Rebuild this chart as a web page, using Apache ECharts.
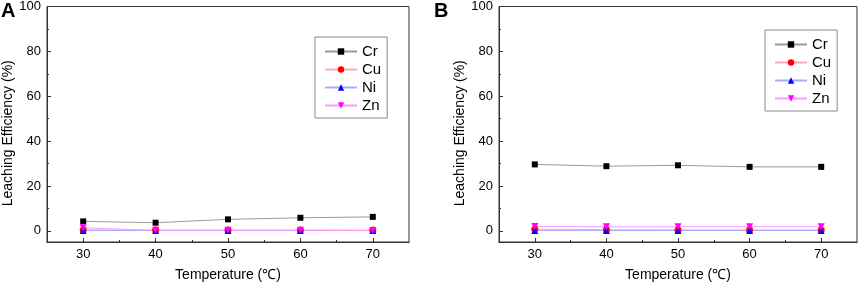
<!DOCTYPE html>
<html>
<head>
<meta charset="utf-8">
<script src="https://cdn.jsdelivr.net/npm/echarts@6/dist/echarts.min.js"></script>
<style>
  html, body { margin: 0; padding: 0; background: #fff; }
  #chart { width: 858px; height: 287px; }
</style>
</head>
<body>
<div id="chart"></div>
<script>
// temperatures (°C)
const temps = [30, 40, 50, 60, 70];
// panel A
const crA = [4.2, 3.6, 5.1, 5.8, 6.2];
const cuA = [0.4, 0.3, 0.3, 0.3, 0.3];
const niA = [0.1, 0.1, 0.1, 0.1, 0.1];
const znA = [1.3, 0.2, 0.2, 0.2, 0.1];
// panel B
const crB = [29.6, 28.8, 29.2, 28.5, 28.5];
const cuB = [0.7, 0.5, 0.4, 0.4, 0.4];
const niB = [0.1, 0.1, 0.1, 0.1, 0.1];
const znB = [1.9, 1.8, 1.8, 1.8, 1.8];
// ticks
const xMajor = [30, 40, 50, 60, 70];
const xMinor = [35, 45, 55, 65];
const yMajor = [0, 20, 40, 60, 80, 100];
const yMinor = [10, 30, 50, 70, 90];
const metals = ['Cr', 'Cu', 'Ni', 'Zn'];

const FONT = 'Liberation Sans, Arial, sans-serif';
const AXIS_COLOR = '#333';

const chart = echarts.init(document.getElementById('chart'));

function pairs(vals) {
  return temps.map((t, i) => [t, vals[i]]);
}

function xAxes(gridIndex) {
  const base = {
    type: 'value', gridIndex: gridIndex, min: 25, max: 75, position: 'bottom',
    splitLine: { show: false },
    axisLine: { show: true, onZero: false, lineStyle: { color: AXIS_COLOR, width: 1 } },
  };
  return [
    Object.assign({}, base, {
      name: 'Temperature (℃)',
      nameLocation: 'middle',
      nameGap: 26,
      nameTextStyle: { fontFamily: FONT, fontSize: 14, color: '#000' },
      axisTick: { inside: true, length: 4, customValues: xMajor, lineStyle: { color: AXIS_COLOR } },
      axisLabel: { customValues: xMajor, margin: 6, fontFamily: FONT, fontSize: 13, color: '#000' },
    }),
    Object.assign({}, base, {
      axisTick: { inside: true, length: 2, customValues: xMinor, lineStyle: { color: AXIS_COLOR } },
      axisLabel: { show: false },
    }),
  ];
}

function yAxes(gridIndex) {
  const base = {
    type: 'value', gridIndex: gridIndex, min: -5, max: 100, position: 'left',
    splitLine: { show: false },
    axisLine: { show: true, onZero: false, lineStyle: { color: AXIS_COLOR, width: 1 } },
  };
  return [
    Object.assign({}, base, {
      name: 'Leaching Efficiency (%)',
      nameLocation: 'middle',
      nameGap: 32,
      nameTextStyle: { fontFamily: FONT, fontSize: 14, color: '#000', padding: [0, 18, 0, 0] },
      axisTick: { inside: true, length: 4, customValues: yMajor, lineStyle: { color: AXIS_COLOR } },
      axisLabel: { customValues: yMajor, margin: 6, fontFamily: FONT, fontSize: 13, color: '#000' },
    }),
    Object.assign({}, base, {
      axisTick: { inside: true, length: 2, customValues: yMinor, lineStyle: { color: AXIS_COLOR } },
      axisLabel: { show: false },
    }),
  ];
}

const styles = {
  Cr: { line: '#999999', mark: '#000000', symbol: 'rect', size: 6 },
  Cu: { line: '#ffaaaa', mark: '#ff0000', symbol: 'circle', size: 7 },
  Ni: { line: '#aaaaff', mark: '#0000ff', symbol: 'triangle', size: 7 },
  Zn: { line: '#ff99ff', mark: '#ff00ff', symbol: 'path://M0,0 L10,0 L5,9 Z', size: 7 },
};

function makeSeries(axisIndex, data) {
  return metals.map((m, i) => ({
    name: m,
    type: 'line',
    xAxisIndex: axisIndex,
    yAxisIndex: axisIndex,
    data: pairs(data[i]),
    symbol: styles[m].symbol,
    symbolSize: styles[m].size,
    showAllSymbol: true,
    lineStyle: { color: styles[m].line, width: 1 },
    itemStyle: { color: styles[m].mark },
    emphasis: { disabled: true },
    animation: false,
  }));
}

function legend(left, top) {
  return {
    data: metals,
    orient: 'vertical',
    left: left, top: top,
    itemWidth: 32, itemHeight: 8, itemGap: 3,
    padding: [7, 6, 5, 9],
    backgroundColor: '#fff',
    borderColor: '#888', borderWidth: 1, borderRadius: 0,
    textStyle: { fontFamily: FONT, fontSize: 15, color: '#000' },
  };
}

const option = {
  backgroundColor: '#fff',
  animation: false,
  title: [
    { text: 'A', left: 1, top: 1, textStyle: { fontFamily: FONT, fontSize: 20, fontWeight: 'bold', color: '#000' }, padding: 0 },
    { text: 'B', left: 434, top: 1, textStyle: { fontFamily: FONT, fontSize: 20, fontWeight: 'bold', color: '#000' }, padding: 0 },
  ],
  grid: [
    { left: 46, right: 449, top: 5, bottom: 40, show: true, borderColor: AXIS_COLOR, borderWidth: 1, backgroundColor: 'transparent' },
    { left: 499, right: 1, top: 5, bottom: 40, show: true, borderColor: AXIS_COLOR, borderWidth: 1, backgroundColor: 'transparent' },
  ],
  xAxis: xAxes(0).concat(xAxes(1)),
  yAxis: yAxes(0).concat(yAxes(1)),
  legend: [legend(315, 37), legend(765, 30)],
  series: makeSeries(0, [crA, cuA, niA, znA]).concat(makeSeries(2, [crB, cuB, niB, znB])),
};

chart.setOption(option);
window.addEventListener('resize', () => chart.resize());
</script>
</body>
</html>
